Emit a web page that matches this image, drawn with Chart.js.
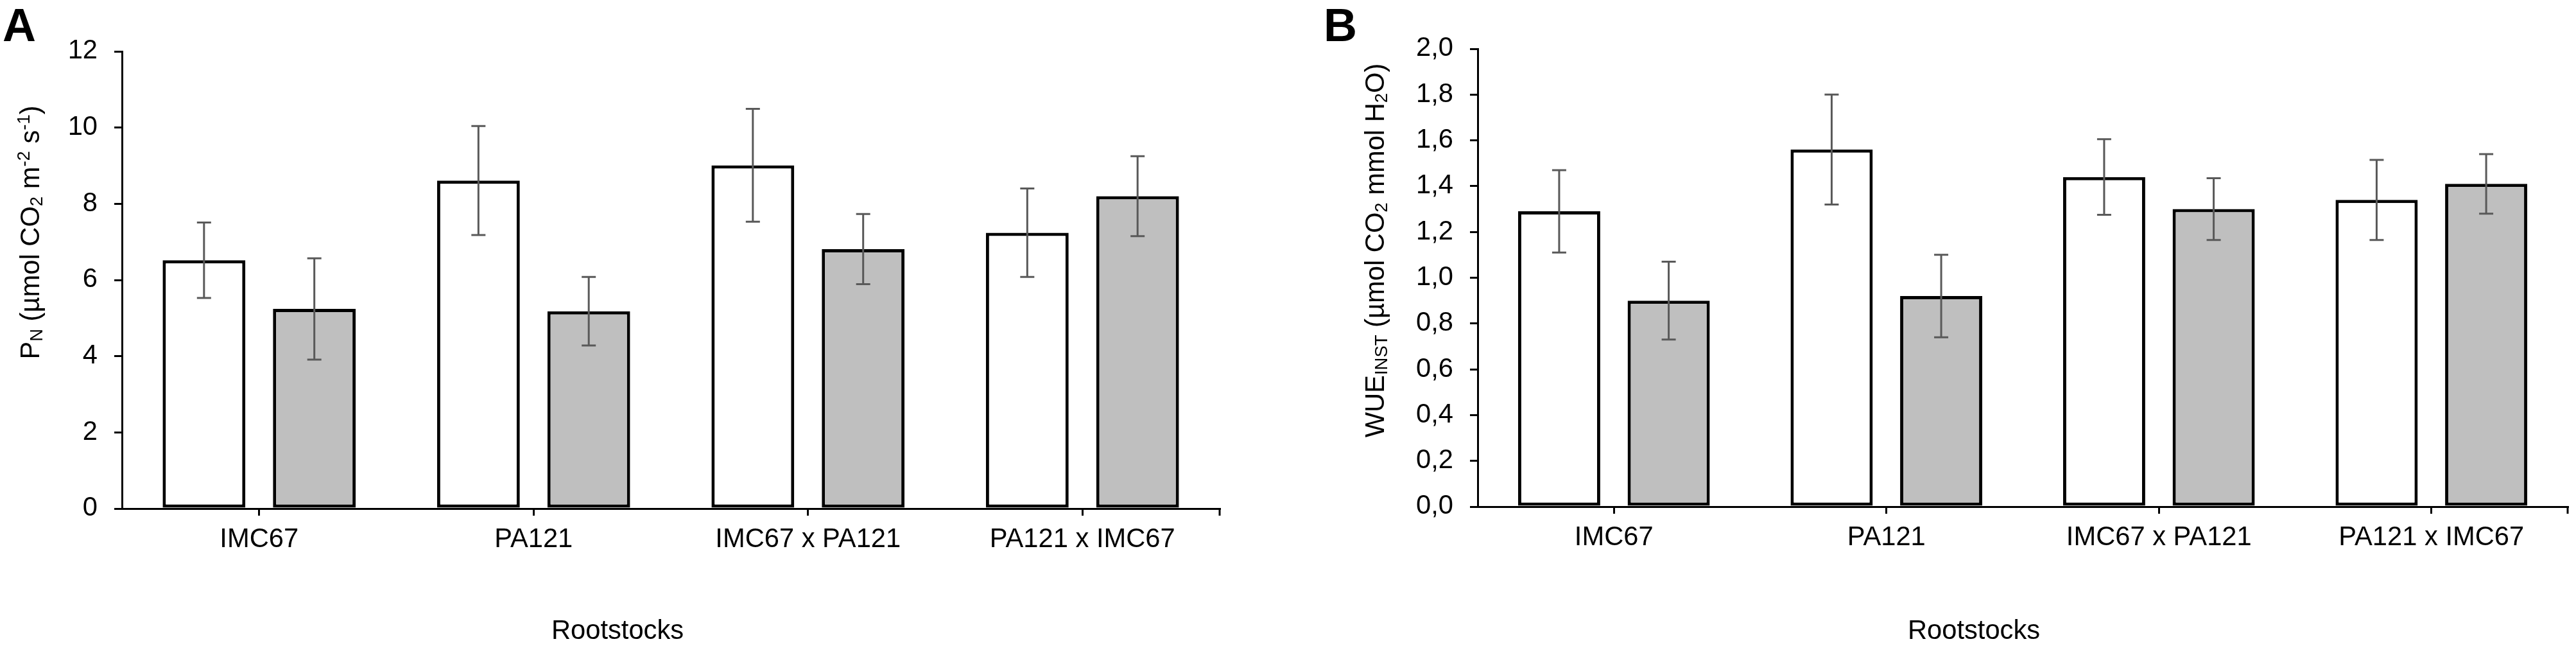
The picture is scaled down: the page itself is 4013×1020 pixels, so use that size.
<!DOCTYPE html>
<html>
<head>
<meta charset="utf-8">
<script src="https://cdn.jsdelivr.net/npm/chart.js@4.4.0/dist/chart.umd.min.js"></script>
<style>
body { margin: 0; background: #fff; width: 4013px; height: 1020px; overflow: hidden; position: relative; }
canvas { position: absolute; top: 0; }
#chartA { left: 0; }
#chartB { left: 2000px; }
</style>
</head>
<body>
<canvas id="chartA" width="2000" height="1020"></canvas>
<canvas id="chartB" width="2013" height="1020"></canvas>
<script>
// Data
const categories = ['IMC67', 'PA121', 'IMC67 x PA121', 'PA121 x IMC67'];

const pnWhite = [6.52, 8.61, 9.01, 7.24];
const pnWhiteErr = [0.99, 1.43, 1.48, 1.16];
const pnGrey = [5.24, 5.18, 6.81, 8.20];
const pnGreyErr = [1.33, 0.90, 0.92, 1.05];
const pnTickLabels = ['0', '2', '4', '6', '8', '10', '12'];

const wueWhite = [1.29, 1.56, 1.44, 1.34];
const wueWhiteErr = [0.18, 0.24, 0.165, 0.175];
const wueGrey = [0.90, 0.92, 1.30, 1.41];
const wueGreyErr = [0.17, 0.18, 0.135, 0.13];
const wueTickLabels = ['0,0', '0,2', '0,4', '0,6', '0,8', '1,0', '1,2', '1,4', '1,6', '1,8', '2,0'];

const FAMILY = '"Liberation Sans", Arial, sans-serif';
const SIZE = 41.7;

// rich text helpers (sub / superscripts in axis titles)
function partFont(p) {
  const s = (p.sub || p.sup) ? SIZE * 0.66 : SIZE;
  return s.toFixed(1) + 'px ' + FAMILY;
}
function richWidth(ctx, parts) {
  let w = 0;
  parts.forEach(p => { ctx.font = partFont(p); w += ctx.measureText(p.t).width; });
  return w;
}
function drawRich(ctx, parts, x) {
  parts.forEach(p => {
    ctx.font = partFont(p);
    let dy = 0;
    if (p.sub) dy = SIZE * 0.12;
    if (p.sup) dy = -SIZE * 0.36;
    ctx.fillText(p.t, x, dy);
    x += ctx.measureText(p.t).width;
  });
}

// error bars, titles, panel letter
const panelText = {
  id: 'panelText',
  afterDatasetsDraw(chart, args, opts) {
    const ctx = chart.ctx;
    const y = chart.scales.y;
    ctx.save();
    ctx.strokeStyle = '#595959';
    ctx.lineWidth = 3;
    chart.data.datasets.forEach((ds, di) => {
      const meta = chart.getDatasetMeta(di);
      meta.data.forEach((bar, i) => {
        const top = y.getPixelForValue(ds.data[i] + ds.errors[i]);
        const bot = y.getPixelForValue(ds.data[i] - ds.errors[i]);
        ctx.beginPath();
        ctx.moveTo(bar.x, top); ctx.lineTo(bar.x, bot);
        ctx.moveTo(bar.x - 11, top); ctx.lineTo(bar.x + 11, top);
        ctx.moveTo(bar.x - 11, bot); ctx.lineTo(bar.x + 11, bot);
        ctx.stroke();
      });
    });
    ctx.restore();
  },
  afterDraw(chart, args, opts) {
    const ctx = chart.ctx;
    const area = chart.chartArea;
    ctx.save();
    // closing tick at the right end of the category axis
    ctx.strokeStyle = '#000';
    ctx.lineWidth = 3;
    ctx.beginPath();
    ctx.moveTo(area.right, area.bottom);
    ctx.lineTo(area.right, area.bottom + 11);
    ctx.stroke();

    ctx.fillStyle = '#000';
    ctx.textBaseline = 'alphabetic';
    ctx.font = 'bold 72px ' + FAMILY;
    ctx.textAlign = 'left';
    ctx.fillText(opts.letter, opts.letterX, opts.letterY);

    ctx.font = SIZE + 'px ' + FAMILY;
    ctx.textAlign = 'center';
    ctx.fillText(opts.xTitle, opts.xTitleX, opts.xTitleY);

    ctx.textAlign = 'left';
    ctx.translate(opts.yTitleX, opts.yTitleY);
    ctx.rotate(-Math.PI / 2);
    const w = richWidth(ctx, opts.yTitle);
    drawRich(ctx, opts.yTitle, -w / 2);
    ctx.restore();
  }
};

function makeChart(id, white, whiteErr, grey, greyErr, max, step, tickLabels, yWidth, pad, text) {
  new Chart(document.getElementById(id), {
    type: 'bar',
    data: {
      labels: categories,
      datasets: [
        { data: white, errors: whiteErr, backgroundColor: '#ffffff', borderColor: '#000000',
          borderWidth: 5, borderSkipped: false, categoryPercentage: 0.804, barPercentage: 0.75 },
        { data: grey, errors: greyErr, backgroundColor: '#bfbfbf', borderColor: '#000000',
          borderWidth: 5, borderSkipped: false, categoryPercentage: 0.804, barPercentage: 0.75 }
      ]
    },
    options: {
      responsive: false,
      animation: false,
      devicePixelRatio: 1,
      layout: { padding: pad },
      plugins: { legend: { display: false }, tooltip: { enabled: false }, panelText: text },
      scales: {
        x: {
          afterFit: s => { s.height = 1020 - pad.top - (pad.plotH); },
          grid: { drawOnChartArea: false, offset: false, color: '#000', lineWidth: 3, tickLength: 11 },
          border: { display: true, color: '#000', width: 3 },
          ticks: { color: '#000', padding: 12, font: { family: FAMILY, size: SIZE }, maxRotation: 0, autoSkip: false }
        },
        y: {
          min: 0, max: max,
          afterFit: s => { s.width = yWidth; },
          grid: { drawOnChartArea: false, color: '#000', lineWidth: 3, tickLength: 12 },
          border: { display: true, color: '#000', width: 3 },
          ticks: {
            stepSize: step, color: '#000', padding: 26,
            font: { family: FAMILY, size: SIZE },
            callback: (v, i) => tickLabels[i]
          }
        }
      }
    },
    plugins: [panelText]
  });
}

makeChart('chartA', pnWhite, pnWhiteErr, pnGrey, pnGreyErr, 12, 2, pnTickLabels, 190,
  { left: 0, right: 100, top: 80, bottom: 0, plotH: 712 },
  {
    letter: 'A', letterX: 4, letterY: 64,
    xTitle: 'Rootstocks', xTitleX: 962, xTitleY: 995,
    yTitleX: 61, yTitleY: 362,
    yTitle: [{ t: 'P' }, { t: 'N', sub: true }, { t: ' (µmol CO' }, { t: '2', sub: true },
             { t: ' m' }, { t: '-2', sup: true }, { t: ' s' }, { t: '-1', sup: true }, { t: ')' }]
  });

makeChart('chartB', wueWhite, wueWhiteErr, wueGrey, wueGreyErr, 2, 0.2, wueTickLabels, 302,
  { left: 0, right: 13, top: 76, bottom: 0, plotH: 713 },
  {
    letter: 'B', letterX: 62, letterY: 64,
    xTitle: 'Rootstocks', xTitleX: 1075, xTitleY: 995,
    yTitleX: 156, yTitleY: 390,
    yTitle: [{ t: 'WUE' }, { t: 'INST', sub: true }, { t: ' (µmol CO' }, { t: '2', sub: true },
             { t: ' mmol H' }, { t: '2', sub: true }, { t: 'O)' }]
  });
</script>
</body>
</html>
